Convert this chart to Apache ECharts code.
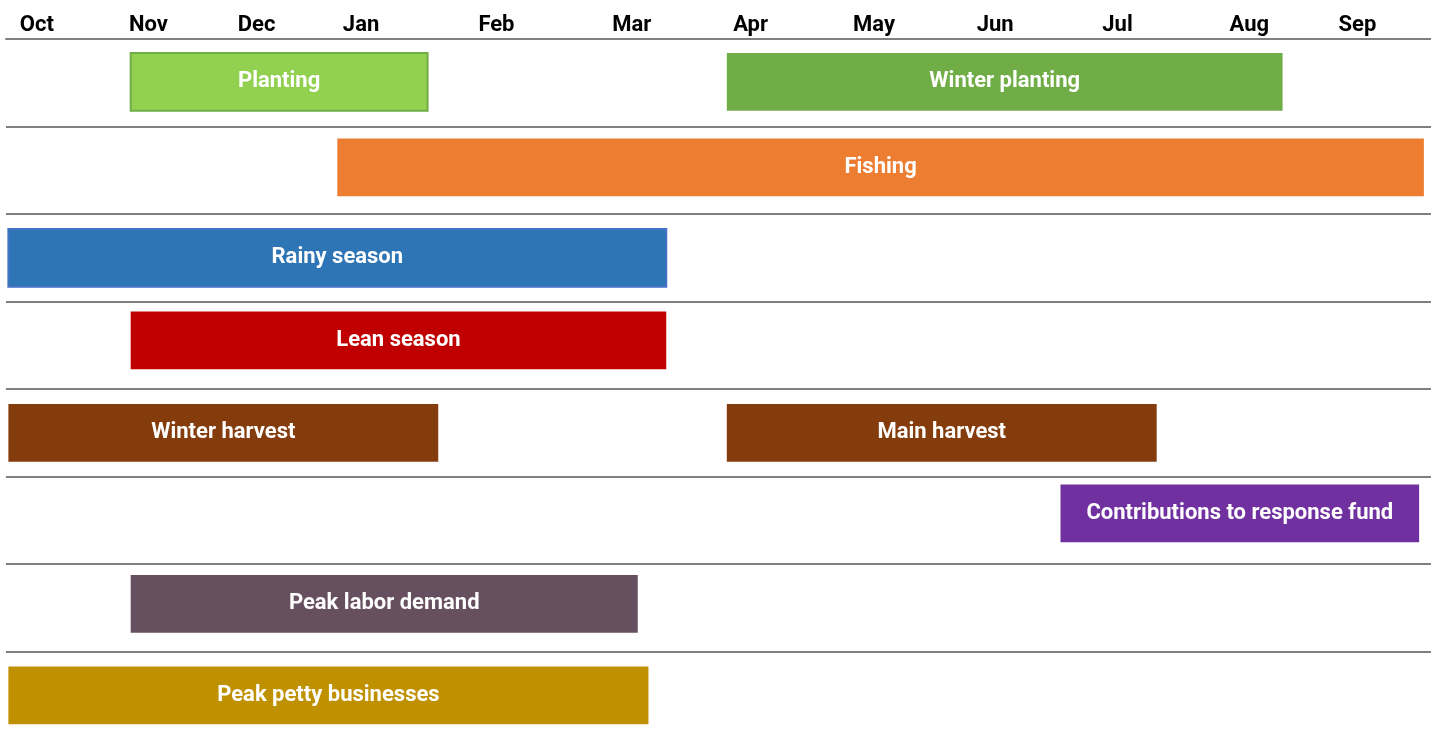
<!DOCTYPE html>
<html>
<head>
<meta charset="utf-8">
<script src="https://cdn.jsdelivr.net/npm/echarts@6/dist/echarts.min.js"></script>
<style>
  html, body { margin: 0; padding: 0; background: #fff; }
  #main { width: 1431px; height: 734px; }
</style>
</head>
<body>
<div id="main"></div>
<script>
// x axis is in months counted from the start of October (0 .. 12)
const months = ["Oct", "Nov", "Dec", "Jan", "Feb", "Mar", "Apr", "May", "Jun", "Jul", "Aug", "Sep"];
// where each month name sits along the axis
const monthPos = [0.26, 1.2, 2.11, 2.99, 4.13, 5.27, 6.27, 7.31, 8.33, 9.36, 10.47, 11.38];

const rows = ["r0", "r1", "r2", "r3", "r4", "r5", "r6", "r7"];

const barLabels = ["Planting", "Winter planting", "Fishing", "Rainy season", "Lean season",
  "Winter harvest", "Main harvest", "Contributions to response fund", "Peak labor demand", "Peak petty businesses"];
const barRows = [0, 0, 1, 2, 3, 4, 4, 5, 6, 7];
const barStart = [1.05, 6.07, 2.79, 0.02, 1.05, 0.02, 6.07, 8.88, 1.05, 0.02];
const barEnd = [3.55, 10.75, 11.94, 5.56, 5.56, 3.64, 9.69, 11.9, 5.32, 5.41];

// styles
const barColors = ["#92D050", "#70AD47", "#ED7D31", "#2E75B6", "#C00000",
  "#843C0C", "#843C0C", "#7030A0", "#664F5F", "#BF9000"];
const barStroke = ["#70AD47", null, null, "#4472C4", null, null, null, null, null, null];
// small vertical nudge of each row's bars (px), as in the original layout
const rowNudge = [-1, -3, 0, -5, 0, -7, -4, 0];

const chart = echarts.init(document.getElementById("main"));

const seriesData = barLabels.map((name, i) => ({
  name: name,
  value: [barRows[i], barStart[i], barEnd[i], i]
}));

function renderItem(params, api) {
  const row = api.value(0);
  const i = api.value(3);
  const p0 = api.coord([api.value(1), row]);
  const p1 = api.coord([api.value(2), row]);
  const h = api.size([0, 1])[1] * 0.66;
  const stroke = barStroke[i];
  return {
    type: "rect",
    shape: { x: p0[0], y: p0[1] - h / 2 + rowNudge[row], width: p1[0] - p0[0], height: h },
    style: {
      fill: barColors[i],
      stroke: stroke || null,
      lineWidth: stroke ? 2 : 0
    },
    textContent: {
      style: {
        text: barLabels[i],
        fill: "#fff",
        fontFamily: "Roboto",
        fontWeight: "bold",
        fontSize: 22
      }
    },
    textConfig: { position: "inside" }
  };
}

const option = {
  backgroundColor: "#fff",
  animation: false,
  grid: { left: 6, right: 0, top: 39, height: 700, outerBoundsMode: "none" },
  xAxis: {
    type: "value",
    position: "top",
    min: 0,
    max: 12,
    axisLine: { show: true, lineStyle: { color: "#7f7f7f", width: 2 } },
    axisTick: { show: false },
    splitLine: { show: false },
    axisLabel: {
      customValues: monthPos,
      margin: 3,
      color: "#000",
      fontFamily: "Roboto",
      fontWeight: "bold",
      fontSize: 22,
      formatter: function (v) {
        const k = monthPos.indexOf(v);
        return k >= 0 ? months[k] : "";
      }
    }
  },
  yAxis: {
    type: "category",
    data: rows,
    inverse: true,
    axisLine: { show: false },
    axisTick: { show: false },
    axisLabel: { show: false },
    splitLine: { show: true, lineStyle: { color: "#7f7f7f", width: 2 } }
  },
  series: [
    {
      type: "custom",
      renderItem: renderItem,
      encode: { x: [1, 2], y: 0 },
      data: seriesData
    }
  ]
};

chart.setOption(option);
</script>
</body>
</html>
